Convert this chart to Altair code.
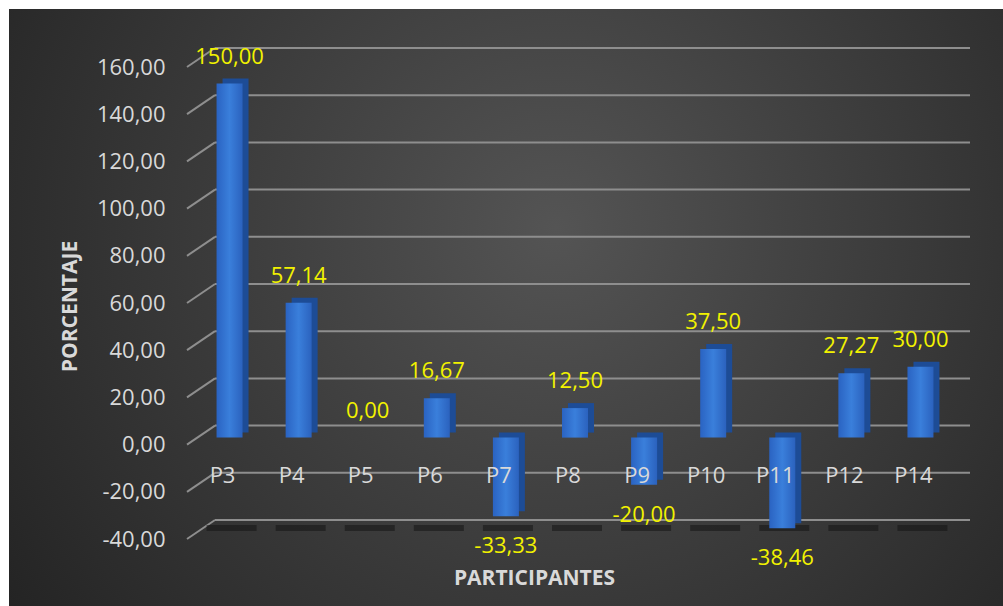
import altair as alt
import pandas as pd

categories = ["P3", "P4", "P5", "P6", "P7", "P8", "P9", "P10", "P11", "P12", "P14"]
values = [150.00, 57.14, 0.00, 16.67, -33.33, 12.50, -20.00, 37.50, -38.46, 27.27, 30.00]
y_ticks = [-40, -20, 0, 20, 40, 60, 80, 100, 120, 140, 160]

df = pd.DataFrame({
    "cat": categories,
    "v": values,
    "lbl": [f"{v:.2f}".replace(".", ",") for v in values],
})
ticks_df = pd.DataFrame({"t": y_ticks})

W, H = 783, 472
FONT = "Open Sans"
TXT = "#d9d9d9"
GRID = "#8e8e8e"
FS = 22
TFS = 21

xscale = alt.Scale(domain=categories, range=[8, 768], paddingInner=0.62, paddingOuter=0.31)
yscale = alt.Scale(domain=[-40, 160], nice=False, zero=False)

X = alt.X("cat:N", scale=xscale, sort=categories,
          axis=alt.Axis(title="PARTICIPANTES", labels=False, ticks=False, domain=False, zindex=2,
                        titleFont=FONT, titleFontSize=TFS, titleFontWeight="bold",
                        titleColor=TXT, titleX=347, titleY=39, titleBaseline="middle"))
Y = alt.Y("v:Q", scale=yscale,
          axis=alt.Axis(title="PORCENTAJE", values=y_ticks, grid=False, domain=False, ticks=False,
                        zindex=2, labelPadding=22, labelFont=FONT, labelFontSize=FS, labelColor=TXT,
                        labelExpr="replace(replace(format(datum.value, '.2f'), '.', ','), '\u2212', '-')",
                        titleFont=FONT, titleFontSize=TFS, titleFontWeight="bold", titleColor=TXT,
                        titleX=-117, titleY=239, titleBaseline="middle", titleAlign="center"))

bg = alt.Chart(pd.DataFrame({"a": [0]})).mark_rect(
    color=alt.Gradient(gradient="radial",
                       stops=[alt.GradientStop(offset=0, color="#545454"),
                              alt.GradientStop(offset=1, color="#1e1e1e")],
                       x1=0.55, y1=0.42, x2=0.55, y2=0.42, r1=0, r2=0.75)
).encode(x=alt.value(-178), x2=alt.value(816), y=alt.value(-58), y2=alt.value(539))

grid_back = alt.Chart(ticks_df).mark_rule(color=GRID, strokeWidth=2, yOffset=-19).encode(
    y=alt.Y("t:Q", scale=yscale), x=alt.value(28), x2=alt.value(W))
grid_slant = alt.Chart(ticks_df).mark_rule(color=GRID, strokeWidth=2, y2Offset=-19).encode(
    y=alt.Y("t:Q", scale=yscale), y2="t:Q", x=alt.value(0), x2=alt.value(28))

shadows = alt.Chart(df).mark_tick(color="#141414", opacity=0.55, thickness=6, size=50,
                                  orient="horizontal", xOffset=2, yOffset=-11).encode(
    x=alt.X("cat:N", scale=xscale, sort=categories), y=alt.datum(-40, scale=yscale))

side = alt.Chart(df).mark_bar(size=26, color="#1d4c96", xOffset=6, yOffset=-12, y2Offset=-12).encode(
    x=X, y=Y, y2=alt.datum(0))
front = alt.Chart(df).mark_bar(
    size=26, yOffset=-7, y2Offset=-7,
    color=alt.Gradient(gradient="linear",
                       stops=[alt.GradientStop(offset=0, color="#2a63c2"),
                              alt.GradientStop(offset=0.5, color="#3a7fdb"),
                              alt.GradientStop(offset=1, color="#2b62be")],
                       x1=0, y1=0, x2=1, y2=0)
).encode(x=X, y=Y, y2=alt.datum(0))

cat_labels = alt.Chart(df).mark_text(font=FONT, fontSize=FS, color=TXT, dx=-7, dy=31,
                                     baseline="middle").encode(
    x=alt.X("cat:N", scale=xscale, sort=categories), y=alt.datum(0, scale=yscale), text="cat:N")

pos_labels = alt.Chart(df).transform_filter("datum.v >= 0").mark_text(
    font=FONT, fontSize=FS, color="#f2f200", dy=-34, baseline="middle").encode(
    x=alt.X("cat:N", scale=xscale, sort=categories), y=alt.Y("v:Q", scale=yscale), text="lbl:N")
neg_labels = alt.Chart(df).transform_filter("datum.v < 0").mark_text(
    font=FONT, fontSize=FS, color="#f2f200", dy=23, baseline="middle").encode(
    x=alt.X("cat:N", scale=xscale, sort=categories), y=alt.Y("v:Q", scale=yscale), text="lbl:N")

chart = alt.layer(bg, grid_back, grid_slant, shadows, side, front, cat_labels, pos_labels, neg_labels).properties(
    width=W, height=H,
    autosize=alt.AutoSizeParams(type="none"),
    padding={"left": 187, "top": 67, "right": 33, "bottom": 67},
    background="white",
).configure_view(strokeWidth=0)

chart.save("out.html", embed_options={"renderer": "svg", "actions": False})
